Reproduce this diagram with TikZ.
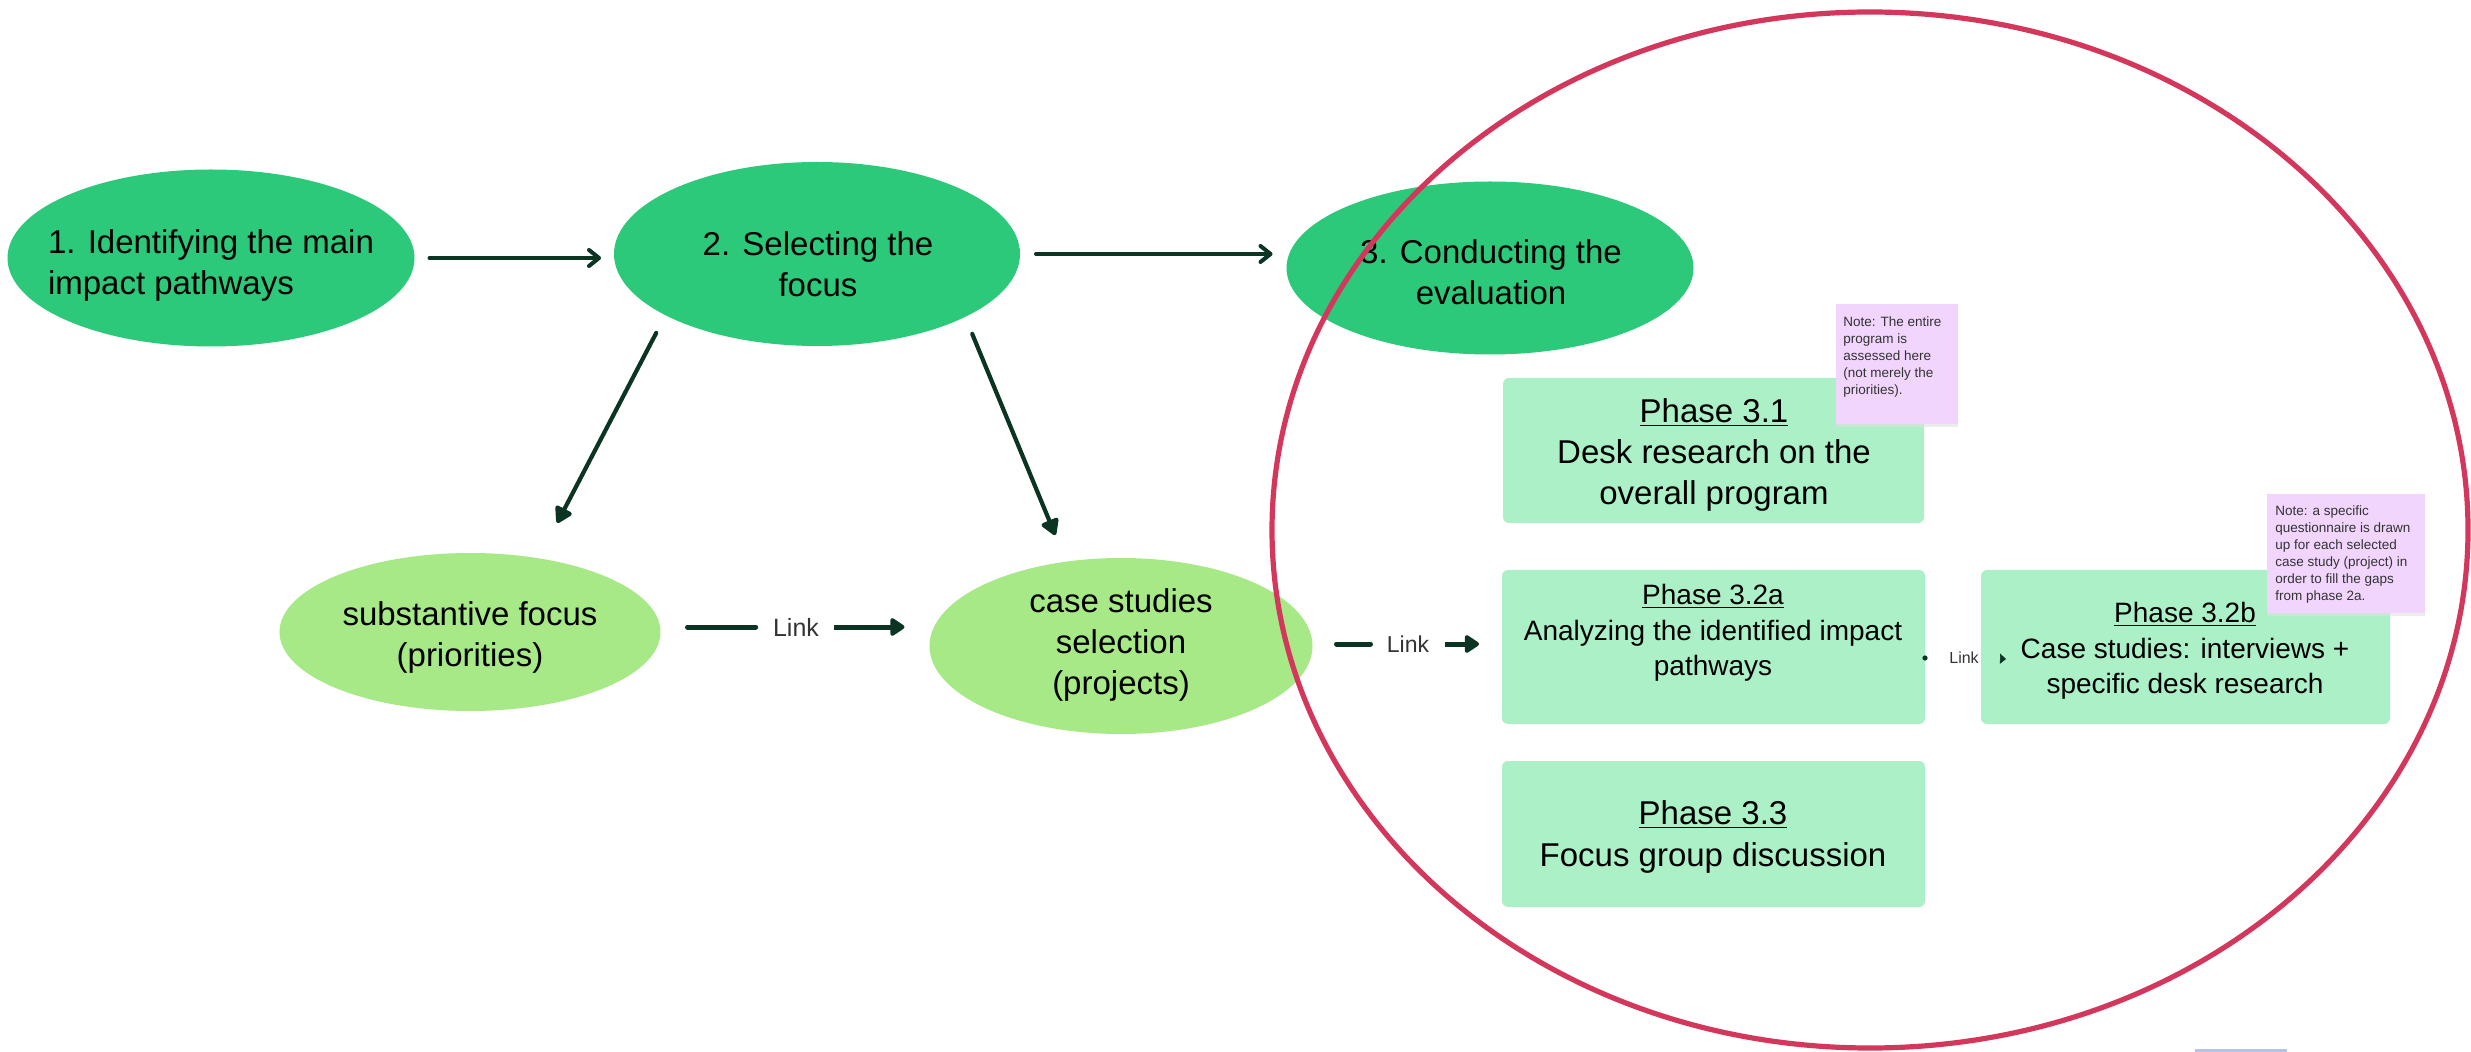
\documentclass[tikz,border=0pt]{standalone}
\usepackage{fontspec}
\setmainfont{Liberation Sans}
\usetikzlibrary{shapes.geometric,arrows.meta,shadows}
\definecolor{dkgreen}{HTML}{2DC97A}
\definecolor{ltgreen}{HTML}{A7E887}
\definecolor{boxgreen}{HTML}{ABF0C7}
\definecolor{notepink}{HTML}{F1D5FD}
\definecolor{ringred}{HTML}{D3385C}
\definecolor{arrowgreen}{HTML}{0B3522}
\definecolor{linkgray}{HTML}{333333}
\definecolor{faintblue}{HTML}{B7C3E3}
\begin{document}
\begin{tikzpicture}[x=0.5pt,y=-0.5pt,
  stage/.style={ellipse, fill=dkgreen, inner sep=0pt, outer sep=0pt},
  subell/.style={ellipse, fill=ltgreen, inner sep=0pt, outer sep=0pt},
  phasebox/.style={rectangle, rounded corners=3pt, fill=boxgreen, inner sep=0pt, outer sep=0pt},
  notebox/.style={rectangle, fill=notepink, inner sep=0pt, outer sep=0pt,
    drop shadow={shadow xshift=0pt, shadow yshift=-1.5pt, fill=black!12, opacity=0.6}},
  bigtext/.style={align=center, inner sep=0pt, font=\fontsize{16.5}{20.5}\selectfont, text=black},
  midtext/.style={align=center, inner sep=0pt, font=\fontsize{14}{17.75}\selectfont, text=black},
  notetext/.style={align=left, inner sep=0pt, anchor=north west, font=\fontsize{6.75}{8.5}\selectfont, text=linkgray},
  linktext/.style={inner sep=0pt, text=linkgray},
  flow/.style={draw=arrowgreen, line width=2pt, line cap=round, -{Straight Barb[length=5pt,width=8pt,round]}},
  drop/.style={draw=arrowgreen, line width=2.1pt, line cap=round, -{Triangle[length=9pt,width=10pt,round]}},
  linkline/.style={draw=arrowgreen, line width=2.5pt, line cap=round},
  linkarrow/.style={draw=arrowgreen, line width=2.5pt, -{Triangle[length=8pt,width=10pt,round]}},
]
\useasboundingbox (0,0) rectangle (2471,1052);
\fill[white] (0,0) rectangle (2471,1052);

% stage ellipses
\node[stage, minimum width=203.5pt, minimum height=88.5pt] (e1) at (211,258) {};
\node[stage, minimum width=203pt, minimum height=92pt] (e2) at (817,254) {};
\node[stage, minimum width=203.5pt, minimum height=86.5pt] (e3) at (1490,268) {};
\node[bigtext, align=left] (e1t) at (211,265) {1. Identifying the main\\impact pathways};
\node[bigtext] (e2t) at (818,264) {2. Selecting the\\focus};
\node[bigtext] (e3t) at (1491,272) {3. Conducting the\\evaluation};

% second-row ellipses
\node[subell, minimum width=190.5pt, minimum height=79pt] (sub) at (470,632) {};
\node[subell, minimum width=191.5pt, minimum height=88pt] (case) at (1121,646) {};
\node[bigtext] (subt) at (470,637) {substantive focus\\(priorities)};
\node[bigtext] (caset) at (1121,645) {case studies\\selection\\(projects)};

% phase boxes
\node[phasebox, minimum width=210.5pt, minimum height=72.5pt] (b31) at (1713.5,450.5) {};
\node[phasebox, minimum width=211.5pt, minimum height=77pt] (b32a) at (1713.5,647) {};
\node[phasebox, minimum width=211.5pt, minimum height=73pt] (b33) at (1713.5,834) {};
\node[phasebox, minimum width=204.5pt, minimum height=77pt] (b32b) at (2185.5,647) {};
\node[bigtext] (b31t) at (1714,455) {\underline{Phase 3.1}\\Desk research on the\\overall program};
\node[midtext] (b32at) at (1713,633) {\underline{Phase 3.2a}\\Analyzing the identified impact\\pathways};
\node[bigtext, font=\fontsize{16.5}{21}\selectfont] (b33t) at (1713,837) {\underline{Phase 3.3}\\Focus group discussion};
\node[midtext] (b32bt) at (2185,651) {\underline{Phase 3.2b}\\Case studies: interviews +\\specific desk research};

% notes
\node[notebox, minimum width=61pt, minimum height=60pt] (n1) at (1897,364) {};
\node[notetext] (n1t) at (1843,316) {Note: The entire\\program is\\assessed here\\(not merely the\\priorities).};
\node[notebox, minimum width=79pt, minimum height=59.5pt] (n2) at (2346,553.5) {};
\node[notetext] (n2t) at (2275,505) {Note: a specific\\questionnaire is drawn\\up for each selected\\case study (project) in\\order to fill the gaps\\from phase 2a.};

% main arrows
\draw[flow, shorten <=7.5pt, shorten >=6.5pt] (e1.east) -- (e2.west |- e1.east);
\draw[flow, shorten <=8pt, shorten >=7pt] (e2.east) -- (e3.west |- e2.east);
\draw[drop, shorten <=10pt, shorten >=20pt] (e2.202.9) -- (sub.47.9);
\draw[drop, shorten <=9.2pt, shorten >=14.4pt] (e2.337) -- (case.123.6);

% link 1
\node[linktext, font=\fontsize{12.5}{14}\selectfont] (l1) at (796,627) {Link};
\draw[linkline, shorten <=13.5pt, shorten >=8.5pt] (sub.east |- l1.west) -- (l1.west);
\draw[linkarrow, shorten <=7.5pt, shorten >=12.5pt] (l1.east) -- (case.west |- l1.east);

% link 2
\node[linktext, font=\fontsize{11.5}{13}\selectfont] (l2) at (1408,644) {Link};
\draw[linkline, shorten <=12pt, shorten >=8pt] (case.east |- l2.west) -- (l2.west);
\draw[linkarrow, shorten <=7.5pt, shorten >=11.5pt] (l2.east) -- (b32a.west |- l2.east);

% link 3
\node[linktext, font=\fontsize{8}{9}\selectfont] (l3) at (1964,658) {Link};
\fill[arrowgreen] (b32a.east |- l3) circle (1.3pt);
\coordinate (l3tip) at (2006,659);
\draw[arrowgreen, line width=0.3pt, shorten <=10.5pt, -{Triangle[length=3pt,width=5pt]}] (l3.east) -- (l3tip);

% red ring on top
\node[ellipse, draw=ringred, line width=2.6pt, minimum width=598pt, minimum height=518pt, inner sep=0pt, outer sep=0pt] (ring) at (1870,530) {};

% faint mark at bottom edge
\draw[faintblue, line width=1.5pt] (2195,1050) -- (2287,1050);
\end{tikzpicture}
\end{document}
